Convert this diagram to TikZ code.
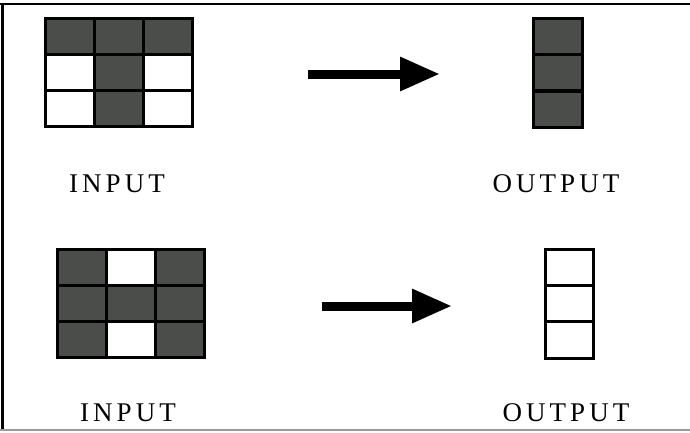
\documentclass[tikz,border=0pt]{standalone}
\usepackage{fontspec}
\setmainfont{Liberation Serif}[LetterSpace=15]
\usetikzlibrary{positioning, arrows.meta}
\definecolor{cellon}{HTML}{4A4D49}
\definecolor{framegray}{HTML}{9A9A9A}
\tikzset{
  cell/.style={draw=black, line width=3pt, minimum width=49pt, minimum height=36.3pt,
               inner sep=0pt, outer sep=0pt, fill=white},
  oncell/.style={cell, fill=cellon},
  tag/.style={font=\fontsize{27}{27}\selectfont, inner sep=0pt, anchor=base},
  bigarrow/.style={-{Triangle[length=40pt, width=32pt]}, line width=9pt},
}

\begin{document}
\begin{tikzpicture}[x=1pt, y=-1pt]

\useasboundingbox (0,0) rectangle (690,432);

%% frame
\draw[line width=2.5pt] (0,4) -- (690,4);
\draw[line width=3pt] (2.5,4) -- (2.5,429);
\draw[framegray, line width=2pt] (0,429.5) -- (690,429.5);

%% ====================  TOP ROW  ====================

% input grid, rows top to bottom
\foreach \c/\s in {1/oncell, 2/oncell, 3/oncell}
  \node[\s] (ta-1-\c) at (45+24.5+49.3*\c-49.3, 18+18.2) {};
\foreach \c/\s in {1/cell, 2/oncell, 3/cell}
  \node[\s] (ta-2-\c) at (45+24.5+49.3*\c-49.3, 18+18.2+36.3) {};
\foreach \c/\s in {1/cell, 2/oncell, 3/cell}
  \node[\s] (ta-3-\c) at (45+24.5+49.3*\c-49.3, 18+18.2+72.6) {};

% output column
\foreach \r in {1,2,3}
  \node[oncell] (tb-\r) at (558, 18+18.2+36.6*\r-36.6) {};

\coordinate (tfrom) at (308,74);
\coordinate (tto) at (440,74);
\draw[bigarrow] (tfrom) -- (tto);

\node[tag] (tin) at (117,192) {INPUT};
\node[tag] (tout) at (556,192) {OUTPUT};

%% ====================  BOTTOM ROW  ====================

\foreach \c/\s in {1/oncell, 2/cell, 3/oncell}
  \node[\s] (ba-1-\c) at (57+24.5+49*\c-49, 249+18.2) {};
\foreach \c/\s in {1/oncell, 2/oncell, 3/oncell}
  \node[\s] (ba-2-\c) at (57+24.5+49*\c-49, 249+18.2+36.3) {};
\foreach \c/\s in {1/oncell, 2/cell, 3/oncell}
  \node[\s] (ba-3-\c) at (57+24.5+49*\c-49, 249+18.2+72.6) {};

\foreach \r in {1,2,3}
  \node[cell, minimum width=48pt] (bb-\r) at (569, 250+18+36*\r-36) {};

\coordinate (bfrom) at (322,306);
\coordinate (bto) at (452,306);
\draw[bigarrow] (bfrom) -- (bto);

\node[tag] (bin) at (128,421) {INPUT};
\node[tag] (bout) at (566,421) {OUTPUT};

\end{tikzpicture}
\end{document}
